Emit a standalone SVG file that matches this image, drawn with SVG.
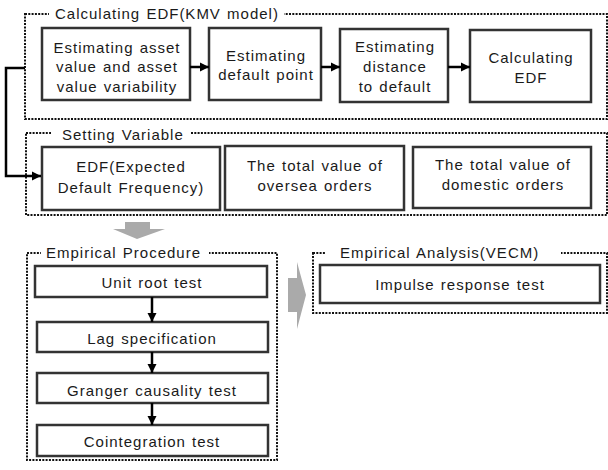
<svg xmlns="http://www.w3.org/2000/svg" width="608" height="470" viewBox="0 0 608 470">
<style>
.grp{fill:none;stroke:#111;stroke-width:2;stroke-dasharray:2 1.3}
.box{fill:#fff;stroke:#333;stroke-width:2.5}
.t{font-family:"Liberation Sans",Arial,sans-serif;font-size:15px;letter-spacing:1px;word-spacing:1px;fill:#1a1a1a;text-anchor:middle}
.tl{font-family:"Liberation Sans",Arial,sans-serif;font-size:15px;letter-spacing:1px;word-spacing:1px;fill:#1a1a1a}
.bg{fill:#fff;stroke:none}
.con{fill:none;stroke:#000;stroke-width:2.5}
.big{fill:#aaa;stroke:none}
</style>
<defs>
<marker id="ah" markerWidth="10" markerHeight="10" refX="9" refY="5" orient="auto" markerUnits="userSpaceOnUse">
<path d="M0,0.5 L9,5 L0,9.5 Z" fill="#000"/>
</marker>
</defs>

<g id="group-kmv">
<rect class="grp" x="25" y="14" width="582" height="105"/>
<rect class="bg" x="49" y="6" width="235" height="16"/>
<text class="tl" x="55" y="19">Calculating EDF(KMV model)</text>
</g>
<g id="n-asset">
<rect class="box" x="42" y="28" width="148" height="72"/>
<text class="t" x="117" y="53">Estimating asset</text>
<text class="t" x="117" y="72">value and asset</text>
<text class="t" x="117" y="92">value variability</text>
</g>
<g id="n-default-point">
<rect class="box" x="209" y="28" width="112" height="72"/>
<text class="t" x="266" y="61">Estimating</text>
<text class="t" x="266" y="80">default point</text>
</g>
<g id="n-distance">
<rect class="box" x="340" y="29" width="108" height="73"/>
<text class="t" x="395" y="52">Estimating</text>
<text class="t" x="395" y="72">distance</text>
<text class="t" x="395" y="92">to default</text>
</g>
<g id="n-calc-edf">
<rect class="box" x="470" y="30" width="121" height="72"/>
<text class="t" x="531" y="63">Calculating</text>
<text class="t" x="531" y="83">EDF</text>
</g>

<g id="group-setting">
<rect class="grp" x="26" y="133" width="581" height="82"/>
<rect class="bg" x="51" y="125" width="140" height="16"/>
<text class="tl" x="62" y="140">Setting Variable</text>
</g>
<g id="n-edf">
<rect class="box" x="42" y="147" width="178" height="63"/>
<text class="t" x="131" y="172">EDF(Expected</text>
<text class="t" x="131" y="193">Default Frequency)</text>
</g>
<g id="n-oversea">
<rect class="box" x="225" y="146" width="179" height="64"/>
<text class="t" x="315" y="171">The total value of</text>
<text class="t" x="315" y="191">oversea orders</text>
</g>
<g id="n-domestic">
<rect class="box" x="413" y="147" width="178" height="61"/>
<text class="t" x="503" y="170">The total value of</text>
<text class="t" x="503" y="190">domestic orders</text>
</g>

<g id="group-procedure">
<rect class="grp" x="27" y="253" width="250" height="207"/>
<rect class="bg" x="41" y="245" width="168" height="16"/>
<text class="tl" x="46" y="258">Empirical Procedure</text>
</g>
<g id="n-unit">
<rect class="box" x="35" y="266" width="232" height="31"/>
<text class="t" x="152" y="288">Unit root test</text>
</g>
<g id="n-lag">
<rect class="box" x="37" y="322" width="231" height="30"/>
<text class="t" x="152" y="344">Lag specification</text>
</g>
<g id="n-granger">
<rect class="box" x="37" y="373" width="231" height="30"/>
<text class="t" x="152" y="396">Granger causality test</text>
</g>
<g id="n-coint">
<rect class="box" x="37" y="425" width="231" height="31"/>
<text class="t" x="152" y="447">Cointegration test</text>
</g>

<g id="group-analysis">
<rect class="grp" x="313" y="253" width="294" height="60"/>
<rect class="bg" x="326" y="245" width="235" height="16"/>
<text class="tl" x="340" y="258">Empirical Analysis(VECM)</text>
</g>
<g id="n-impulse">
<rect class="box" x="320" y="265" width="280" height="38"/>
<text class="t" x="460" y="290">Impulse response test</text>
</g>

<g id="connectors">
<line class="con" x1="190" y1="67" x2="209" y2="67" marker-end="url(#ah)"/>
<line class="con" x1="321" y1="67" x2="340" y2="67" marker-end="url(#ah)"/>
<line class="con" x1="448" y1="67" x2="470" y2="67" marker-end="url(#ah)"/>
<polyline class="con" points="25,68 6,68 6,176 41,176" marker-end="url(#ah)"/>
<line class="con" x1="152" y1="297" x2="152" y2="322" marker-end="url(#ah)"/>
<line class="con" x1="152" y1="352" x2="152" y2="373" marker-end="url(#ah)"/>
<line class="con" x1="152" y1="403" x2="152" y2="425" marker-end="url(#ah)"/>
<polygon class="big" points="125,222 150,222 150,229 165,229 137,239 113,229 125,229"/>
<polygon class="big" points="288,278 297,278 297,262 306,295 297,329 297,312 288,312"/>
</g>
</svg>
